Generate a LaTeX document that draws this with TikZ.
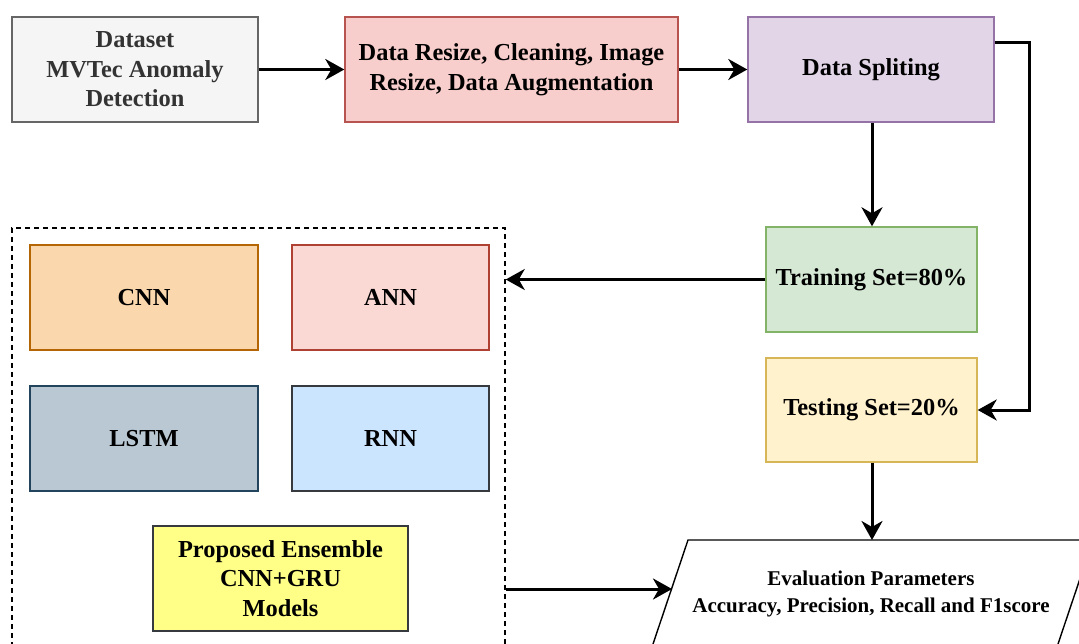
\documentclass[tikz,border=0pt]{standalone}
\usepackage{fontspec}
\setmainfont{Liberation Serif}
\usetikzlibrary{arrows.meta,calc}
\definecolor{gfill}{HTML}{F5F5F5}\definecolor{gline}{HTML}{666666}\definecolor{gtext}{HTML}{333333}
\definecolor{rfill}{HTML}{F8CECC}\definecolor{rline}{HTML}{B85450}
\definecolor{pfill}{HTML}{E1D5E7}\definecolor{pline}{HTML}{9673A6}
\definecolor{grfill}{HTML}{D5E8D4}\definecolor{grline}{HTML}{82B366}
\definecolor{yfill}{HTML}{FFF2CC}\definecolor{yline}{HTML}{D6B656}
\definecolor{ofill}{HTML}{FAD7AC}\definecolor{oline}{HTML}{B46504}
\definecolor{afill}{HTML}{FAD9D5}\definecolor{aline}{HTML}{AE4132}
\definecolor{lfill}{HTML}{BAC8D3}\definecolor{lline}{HTML}{23445D}
\definecolor{bfill}{HTML}{CCE5FF}\definecolor{bline}{HTML}{36393D}
\definecolor{pyfill}{HTML}{FFFF88}
\tikzset{
  box/.style={draw, line width=1.4pt, align=center, inner sep=0pt,
    font=\fontsize{24.4}{29.5}\selectfont\bfseries},
  conn/.style={line width=3pt, -{Stealth[length=19pt,width=21pt,inset=6pt]}},
}
\begin{document}
\begin{tikzpicture}[x=1pt,y=-1pt]
\clip (0,0) rectangle (1079,644);
\fill[white] (0,0) rectangle (1079,644);
% top row
\node[box, fill=gfill, draw=gline, text=gtext, minimum width=246pt, minimum height=105pt] (ds) at (135,69.5) {Dataset\\MVTec Anomaly\\Detection};
\node[box, fill=rfill, draw=rline, minimum width=333pt, minimum height=105pt] (rs) at (511.5,69.5) {Data Resize, Cleaning, Image\\Resize, Data Augmentation};
\node[box, fill=pfill, draw=pline, minimum width=246pt, minimum height=105pt] (sp) at (871,69.5) {Data Spliting};
% right column
\node[box, fill=grfill, draw=grline, minimum width=211pt, minimum height=105pt] (tr) at (871.5,279.5) {Training Set=80\%};
\node[box, fill=yfill, draw=yline, minimum width=211pt, minimum height=104pt] (te) at (871.5,410) {Testing Set=20\%};
% group
\node[draw, dashed, dash pattern=on 5pt off 4pt, line width=1.5pt, minimum width=493pt, minimum height=472pt, inner sep=0pt] (grp) at (258.5,464) {};
\node[box, fill=ofill, draw=oline, minimum width=228pt, minimum height=105pt] (cnn) at (144,297.5) {CNN};
\node[box, fill=afill, draw=aline, minimum width=197pt, minimum height=105pt] (ann) at (390.5,297.5) {ANN};
\node[box, fill=lfill, draw=lline, minimum width=228pt, minimum height=105pt] (lstm) at (144,438.5) {LSTM};
\node[box, fill=bfill, draw=bline, minimum width=197pt, minimum height=105pt] (rnn) at (390.5,438.5) {RNN};
\node[box, fill=pyfill, draw=bline, minimum width=255pt, minimum height=105pt] (prop) at (280.5,578.5) {Proposed Ensemble\\CNN+GRU\\Models};
% parallelogram
\coordinate (p1) at (688,540); \coordinate (p2) at (1093,540);
\coordinate (p3) at (1057,647); \coordinate (p4) at (652,647);
\draw[line width=1.4pt, fill=white] (p1) -- (p2) -- (p3) -- (p4) -- cycle;
\node[align=center, font=\fontsize{21}{27}\selectfont\bfseries] (ev) at (871,593.5) {Evaluation Parameters\\Accuracy, Precision, Recall and F1score};
\coordinate (evtop) at (872,540);
\coordinate (evleft) at (672,589);
% connectors
\draw[conn] (ds) -- (rs);
\draw[conn] (rs) -- (sp);
\draw[conn] (sp.south -| evtop) -- (tr.north -| evtop);
\draw[conn] ($(sp.north east)!0.25!(sp.south east)$) -| (1029,410) -- (te.east);
\draw[conn] (tr.west) -- (tr.west -| grp.east);
\draw[conn] (te.south -| evtop) -- (evtop);
\draw[conn] (grp.east |- evleft) -- (evleft);
\end{tikzpicture}
\end{document}
